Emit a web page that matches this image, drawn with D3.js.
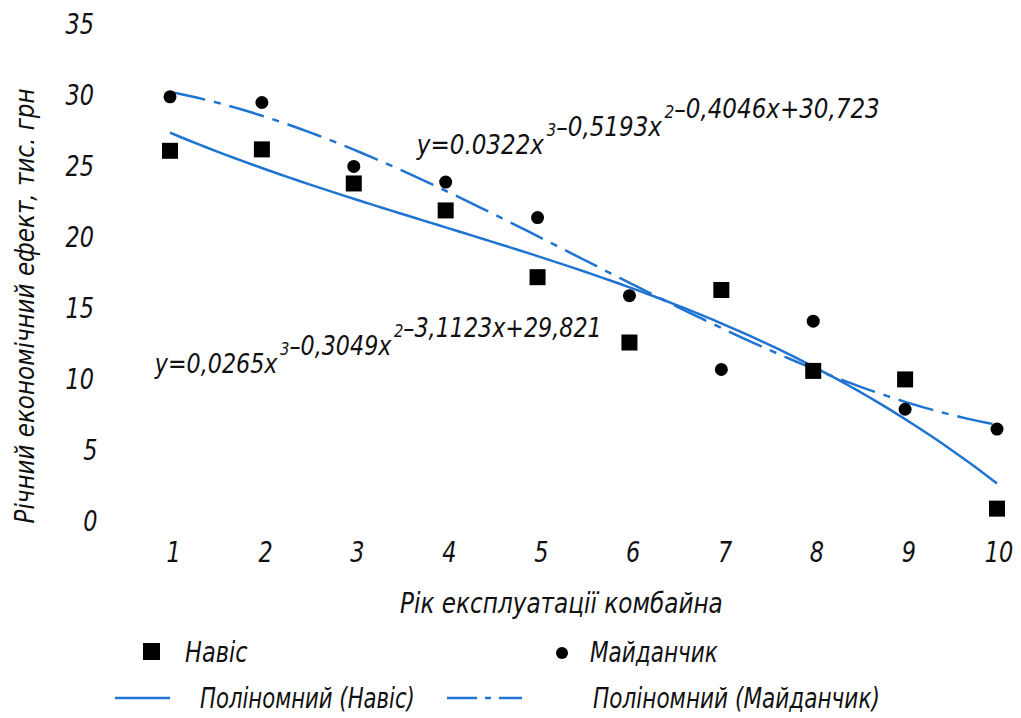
<!DOCTYPE html>
<html>
<head>
<meta charset="utf-8">
<script src="https://cdn.jsdelivr.net/npm/d3@7"></script>
<style>
  body { margin: 0; background: #fff; }
  text { font-family: "DejaVu Sans", sans-serif; font-weight: 200; font-style: italic; fill: #111; }
</style>
</head>
<body>
<div id="chart"></div>
<script>
// values
var years = [1, 2, 3, 4, 5, 6, 7, 8, 9, 10];
var navis = [26.0, 26.1, 23.7, 21.8, 17.1, 12.5, 16.2, 10.5, 9.9, 0.8];
var maidanchyk = [29.8, 29.4, 24.9, 23.8, 21.3, 15.8, 10.6, 14.0, 7.8, 6.4];
var yTicks = [0, 5, 10, 15, 20, 25, 30, 35];

var w = 1021;
var h = 718;
var blue = '#1f74d1';

var svg = d3.select('#chart')
  .append('svg')
  .attr('width', w)
  .attr('height', h);

var x = d3.scaleLinear()
  .domain([1, 10])
  .range([170, 997]);

var y = d3.scaleLinear()
  .domain([0, 35])
  .range([520, 23]);

// squeeze a text horizontally so it spans the given width (font here is wider than the drawing font)
function fit(t, width) {
  var bb = t.node().getBBox();
  var k = width / bb.width;
  var x0 = bb.x;
  t.attr('transform', 'translate(' + x0 + ',0) scale(' + k + ',1) translate(' + (-x0) + ',0)');
}

// cubic least squares fit, same as the excel trendline
function polyfit(xs, ys, deg) {
  var n = deg + 1;
  var A = [];
  for (var i = 0; i < n; i++) {
    A.push([]);
    for (var j = 0; j <= n; j++) A[i].push(0);
  }
  xs.forEach(function(xv, k) {
    for (var i = 0; i < n; i++) {
      for (var j = 0; j < n; j++) A[i][j] += Math.pow(xv, i + j);
      A[i][n] += ys[k] * Math.pow(xv, i);
    }
  });
  for (var c = 0; c < n; c++) {
    var p = c;
    for (var r = c + 1; r < n; r++) if (Math.abs(A[r][c]) > Math.abs(A[p][c])) p = r;
    var t = A[c]; A[c] = A[p]; A[p] = t;
    for (var r = 0; r < n; r++) {
      if (r == c) continue;
      var f = A[r][c] / A[c][c];
      for (var j = c; j <= n; j++) A[r][j] -= f * A[c][j];
    }
  }
  return A.map(function(row, i) { return row[n] / row[i]; });
}

function trend(coef) {
  return d3.range(1, 10.001, 0.1).map(function(xv) {
    var v = 0;
    coef.forEach(function(c, i) { v += c * Math.pow(xv, i); });
    return [xv, v];
  });
}

var line = d3.line()
  .x(function(d) { return x(d[0]); })
  .y(function(d) { return y(d[1]); })
  .curve(d3.curveMonotoneX);

// y axis (labels only, no line)
var yaxis = d3.axisLeft(y)
  .tickValues(yTicks)
  .tickSize(0)
  .tickPadding(0);

var gy = svg.append('g')
  .attr('transform', 'translate(101,0)')
  .call(yaxis);
gy.select('.domain').remove();
gy.selectAll('text')
  .attr('font-size', 28)
  .attr('font-family', null)
  .attr('dy', '0.36em')
  .each(function() { fit(d3.select(this), this.getBBox().width * 0.8); });

var xaxis = d3.axisBottom(x)
  .tickValues(years)
  .tickSize(0)
  .tickPadding(0);

var gx = svg.append('g')
  .attr('transform', 'translate(5,552)')
  .call(xaxis);
gx.select('.domain').remove();
gx.selectAll('text')
  .attr('font-size', 28)
  .attr('font-family', null)
  .attr('dy', '0.36em')
  .each(function() { fit(d3.select(this), this.getBBox().width * 0.8); });

// axis titles
var xt = svg.append('text')
  .attr('x', 400)
  .attr('y', 613)
  .attr('font-size', 28)
  .text('Рік експлуатації комбайна');
fit(xt, 323);

svg.append('text')
  .attr('transform', 'translate(34,306) rotate(-90)')
  .attr('text-anchor', 'middle')
  .attr('font-size', 27)
  .attr('textLength', 435)
  .attr('lengthAdjust', 'spacingAndGlyphs')
  .text('Річний економічний ефект, тис. грн');

// trend lines
svg.append('path')
  .datum(trend(polyfit(years, navis, 3)))
  .attr('fill', 'none')
  .attr('stroke', blue)
  .attr('stroke-width', 2.5)
  .attr('d', line);

svg.append('path')
  .datum(trend(polyfit(years, maidanchyk, 3)))
  .attr('fill', 'none')
  .attr('stroke', blue)
  .attr('stroke-width', 2.5)
  .attr('stroke-dasharray', '36,9,7,9')
  .attr('d', line);

// markers
svg.selectAll('.sq')
  .data(years)
  .enter()
  .append('rect')
  .attr('class', 'sq')
  .attr('x', function(d) { return x(d) - 8; })
  .attr('y', function(d, i) { return y(navis[i]) - 8; })
  .attr('width', 16)
  .attr('height', 16)
  .attr('fill', '#000');

svg.selectAll('.dot')
  .data(years)
  .enter()
  .append('circle')
  .attr('class', 'dot')
  .attr('cx', function(d) { return x(d); })
  .attr('cy', function(d, i) { return y(maidanchyk[i]); })
  .attr('r', 6.5)
  .attr('fill', '#000');

// equations
function equation(tx, ty, width, parts) {
  var t = svg.append('text')
    .attr('x', tx)
    .attr('y', ty)
    .attr('font-size', 27);
  parts.forEach(function(p) {
    if (p.sup) {
      t.append('tspan').attr('dy', -18).attr('dx', 3).attr('font-size', 18).text(p.s);
      t.append('tspan').attr('dy', 18).attr('dx', 3).text('');
    } else {
      t.append('tspan').text(p.s);
    }
  });
  fit(t, width);
}

equation(417, 154, 464, [
  {s: 'y=0.0322x'}, {s: '3', sup: true}, {s: '–0,5193x'}, {s: '2', sup: true}, {s: '–0,4046x+30,723'}
]);

equation(155, 373, 448, [
  {s: 'y=0,0265x'}, {s: '3', sup: true}, {s: '–0,3049x'}, {s: '2', sup: true}, {s: '–3,1123x+29,821'}
]);

// legend
var legend = svg.append('g').attr('class', 'legend');

legend.append('rect')
  .attr('x', 143).attr('y', 643)
  .attr('width', 17).attr('height', 17)
  .attr('fill', '#000');
fit(legend.append('text')
  .attr('x', 185).attr('y', 662)
  .attr('font-size', 28)
  .text('Навіс'), 63);

legend.append('circle')
  .attr('cx', 562).attr('cy', 653)
  .attr('r', 6)
  .attr('fill', '#000');
fit(legend.append('text')
  .attr('x', 590).attr('y', 662)
  .attr('font-size', 28)
  .text('Майданчик'), 128);

legend.append('line')
  .attr('x1', 115).attr('x2', 170)
  .attr('y1', 698).attr('y2', 698)
  .attr('stroke', blue)
  .attr('stroke-width', 2.5);
fit(legend.append('text')
  .attr('x', 200).attr('y', 708)
  .attr('font-size', 28)
  .text('Поліномний (Навіс)'), 215);

legend.append('line')
  .attr('x1', 447).attr('x2', 522)
  .attr('y1', 698).attr('y2', 698)
  .attr('stroke', blue)
  .attr('stroke-width', 2.5)
  .attr('stroke-dasharray', '30,8,6,8');
fit(legend.append('text')
  .attr('x', 593).attr('y', 708)
  .attr('font-size', 28)
  .text('Поліномний (Майданчик)'), 287);
</script>
</body>
</html>
